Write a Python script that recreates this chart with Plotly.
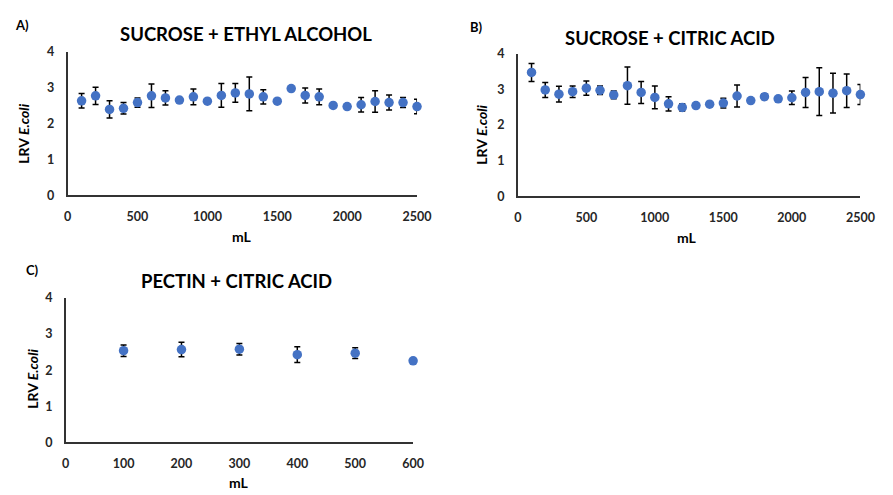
import plotly.graph_objects as go

# Sucrose + ethyl alcohol
vol_a = [100, 200, 300, 400, 500, 600, 700, 800, 900, 1000, 1100, 1200, 1300,
         1400, 1500, 1600, 1700, 1800, 1900, 2000, 2100, 2200, 2300, 2400, 2500]
lrv_a = [2.63, 2.77, 2.39, 2.42, 2.58, 2.77, 2.71, 2.65, 2.74, 2.62, 2.78, 2.85, 2.82,
         2.74, 2.62, 2.97, 2.78, 2.74, 2.50, 2.47, 2.52, 2.61, 2.58, 2.58, 2.47]
err_a = [0.20, 0.24, 0.24, 0.16, 0.13, 0.33, 0.20, 0.04, 0.22, 0.02, 0.33, 0.26, 0.47,
         0.20, 0.03, 0.05, 0.21, 0.22, 0.0, 0.03, 0.20, 0.30, 0.21, 0.14, 0.20]

# Sucrose + citric acid
vol_b = vol_a
lrv_b = [3.47, 2.98, 2.86, 2.93, 3.03, 2.97, 2.84, 3.10, 2.91, 2.77, 2.59, 2.49, 2.54,
         2.58, 2.61, 2.81, 2.68, 2.79, 2.73, 2.76, 2.91, 2.93, 2.89, 2.96, 2.85]
err_b = [0.25, 0.21, 0.22, 0.16, 0.20, 0.12, 0.11, 0.52, 0.31, 0.32, 0.20, 0.10, 0.05,
         0.04, 0.14, 0.31, 0.03, 0.08, 0.0, 0.19, 0.42, 0.67, 0.56, 0.47, 0.28]

# Pectin + citric acid
vol_c = [100, 200, 300, 400, 500, 600]
lrv_c = [2.54, 2.57, 2.58, 2.43, 2.47, 2.26]
err_c = [0.16, 0.20, 0.16, 0.22, 0.15, 0.0]

W, H = 893, 495
BLUE = "#4472C4"
FONT = "Lato"


def px_x(p):
    return p / W


def px_y(p):
    return 1 - p / H


fig = go.Figure()

panels = [
    ("x", "y", vol_a, lrv_a, err_a),
    ("x2", "y2", vol_b, lrv_b, err_b),
    ("x3", "y3", vol_c, lrv_c, err_c),
]
for xa, ya, xs, ys, es in panels:
    fig.add_trace(go.Scatter(
        x=xs, y=ys, mode="markers", xaxis=xa, yaxis=ya,
        marker=dict(color=BLUE, size=9.5),
        error_y=dict(type="data", array=es, visible=True,
                     color="black", thickness=1.5, width=3),
        showlegend=False, cliponaxis=False,
    ))

axis_common = dict(
    showgrid=False, zeroline=False, showline=True, linecolor="#333333",
    linewidth=1.5, ticks="",
    tickfont=dict(family=FONT, size=12.5, color="#262626", weight="bold"),
)
xfmt = dict(axis_common, ticklabelstandoff=9)
yfmt = dict(axis_common, ticklabelstandoff=9, range=[0, 4], tickvals=[0, 1, 2, 3, 4])

fig.update_layout(
    width=W, height=H,
    margin=dict(l=0, r=0, t=0, b=0),
    plot_bgcolor="white", paper_bgcolor="white",
    xaxis=dict(xfmt, domain=[px_x(65), px_x(422)], range=[0, 2500],
               tickvals=[0, 500, 1000, 1500, 2000, 2500], anchor="y"),
    yaxis=dict(yfmt, domain=[px_y(193), px_y(45)], anchor="x"),
    xaxis2=dict(xfmt, domain=[px_x(525), px_x(875)], range=[0, 2500],
                tickvals=[0, 500, 1000, 1500, 2000, 2500], anchor="y2"),
    yaxis2=dict(yfmt, domain=[px_y(194), px_y(47)], anchor="x2"),
    xaxis3=dict(xfmt, domain=[px_x(63), px_x(418)], range=[0, 600],
                tickvals=[0, 100, 200, 300, 400, 500, 600], anchor="y3"),
    yaxis3=dict(yfmt, domain=[px_y(448), px_y(299)], anchor="x3"),
)


def label(text, x, y, size, angle=0, xanchor="center"):
    fig.add_annotation(
        text=text, x=px_x(x), y=px_y(y), xref="paper", yref="paper",
        showarrow=False, textangle=angle, xanchor=xanchor, yanchor="middle",
        font=dict(family=FONT, size=size, color="black"),
    )


# chart titles
label("<b>SUCROSE + ETHYL ALCOHOL</b>", 247, 27, 18.5)
label("<b>SUCROSE + CITRIC ACID</b>", 680, 31, 18.5)
label("<b>PECTIN + CITRIC ACID</b>", 238, 282, 18.5)

# panel letters
label("<b>A)</b>", 9, 18, 13, xanchor="left")
label("<b>B)</b>", 474, 20, 13, xanchor="left")
label("<b>C)</b>", 20, 270, 13, xanchor="left")

# axis titles
ytitle = "<b>LRV <i>E.coli</i></b>"
label(ytitle, 19, 130, 14, angle=-90)
label(ytitle, 487, 131, 14, angle=-90)
label(ytitle, 29, 382, 14, angle=-90)
label("<b>mL</b>", 243, 236, 14)
label("<b>mL</b>", 698, 237, 14)
label("<b>mL</b>", 240, 489, 14)

fig.write_html("out.html")
